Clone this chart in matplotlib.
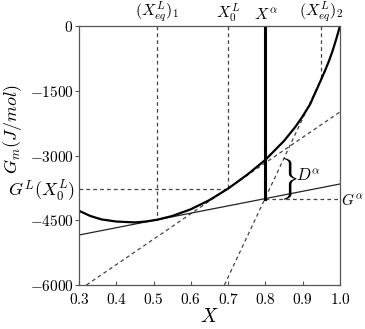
import matplotlib
matplotlib.use("Agg")
import matplotlib.pyplot as plt
import matplotlib.transforms as mtransforms

plt.rcParams['mathtext.fontset'] = 'cm'
plt.rcParams['font.family'] = 'serif'
plt.rcParams['font.serif'] = ['DejaVu Serif']

# Liquid free energy curve G^L(X)
curve_x = [0.30, 0.33, 0.36, 0.40, 0.45, 0.48, 0.51, 0.55, 0.60, 0.65, 0.70,
           0.75, 0.80, 0.85, 0.88, 0.90, 0.92, 0.95, 0.96, 0.97, 0.98, 0.99, 0.995, 1.00]
curve_g = [-4280, -4400, -4480, -4530, -4550, -4528, -4487, -4402, -4245, -4033,
           -3766, -3452, -3100, -2660, -2340, -2090, -1810, -1230, -1030, -820,
           -580, -300, -150, 0]

# key compositions
x_eq1 = 0.51
x0 = 0.70
x_alpha = 0.80
x_eq2 = 0.95
g_eq1 = -4487
g_x0 = -3766
g_alpha = -4000
g_eq2 = -1230

# tangent lines (endpoints)
tan_alpha_x = [0.30, 1.00]
tan_alpha_g = [-4842, -3660]
tan_x0_x = [0.32, 1.00]
tan_x0_g = [-6000, -1990]
tan_eq2_x = [0.69, 0.962]
tan_eq2_g = [-6000, -1000]

xticks = [0.3, 0.4, 0.5, 0.6, 0.7, 0.8, 0.9, 1.0]
yticks = [0, -1500, -3000, -4500, -6000]

fig = plt.figure(figsize=(3.65, 3.29), dpi=100)
ax = fig.add_axes([79/365, 1-285/329, (340-79)/365, (285-26)/329])
ax.set_xlim(0.3, 1.0)
ax.set_ylim(-6000, 0)

dash = dict(color='#444444', lw=0.9, ls=(0, (3, 2.5)))

# vertical dashed markers
ax.plot([x_eq1, x_eq1], [0, g_eq1], **dash)
ax.plot([x0, x0], [0, g_x0], **dash)
ax.plot([x_eq2, x_eq2], [0, g_eq2], **dash)
# horizontal dashed
ax.plot([0.3, x0], [g_x0, g_x0], **dash)
ax.plot([x_alpha, 1.0], [g_alpha, g_alpha], **dash)
# dashed tangents
ax.plot(tan_x0_x, tan_x0_g, **dash)
ax.plot(tan_eq2_x, tan_eq2_g, **dash)
# solid thin tangent
ax.plot(tan_alpha_x, tan_alpha_g, color='#222222', lw=0.9)
# curve
ax.plot(curve_x, curve_g, color='black', lw=1.6)
# alpha vertical
ax.plot([x_alpha, x_alpha], [0, g_alpha], color='black', lw=2.2)

for s in ax.spines.values():
    s.set_color('#555555')
    s.set_linewidth(0.9)

ax.set_xticks(xticks)
ax.set_xticklabels([f"${v:.1f}$" for v in xticks])
ax.set_yticks(yticks)
ax.set_yticklabels(["$0$", "$-1500$", "$-3000$", "$-4500$", "$-6000$"])
ax.tick_params(axis='x', direction='in', length=3, labelsize=11, pad=5, color='#555555')
ax.tick_params(axis='y', direction='out', length=3, labelsize=11, pad=1, color='#555555')

ax.set_xlabel("$X$", fontsize=14, labelpad=1)
ax.set_ylabel("$G_m(J/mol)$", fontsize=13, labelpad=2)
ax.yaxis.set_label_coords(-0.21, 0.6)

# top labels, just above the axes
top = mtransforms.offset_copy(ax.transData, fig=fig, x=0, y=1.5, units='points')
ax.text(x_eq1, 0, r"$(X^L_{eq})_1$", ha='center', va='bottom', fontsize=11.5, transform=top)
ax.text(x0, 0, r"$X^L_0$", ha='center', va='bottom', fontsize=11.5, transform=top)
ax.text(x_alpha, 0, r"$X^\alpha$", ha='center', va='bottom', fontsize=11.5, transform=top)
ax.text(x_eq2, 0, r"$(X^L_{eq})_2$", ha='center', va='bottom', fontsize=11.5, transform=top)

# side labels
ax.text(0.289, g_x0 - 60, r"$G^L(X^L_0)$", ha='right', va='center', fontsize=13)
ax.text(1.004, g_alpha - 30, r"$G^\alpha$", ha='left', va='center', fontsize=11)
ax.text(0.862, -3560, r"$\}$", ha='center', va='center', fontsize=25)
ax.text(0.883, -3480, r"$D^\alpha$", ha='left', va='center', fontsize=12)

fig.savefig("out.png", dpi=100)
